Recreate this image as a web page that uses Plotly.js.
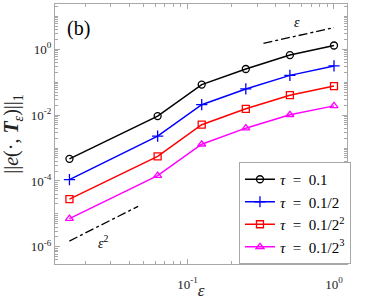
<!DOCTYPE html>
<html>
<head>
<meta charset="utf-8">
<script src="https://cdn.plot.ly/plotly-3.0.1.min.js"></script>
<style>html,body{margin:0;padding:0;background:#fff;}#chart{width:382px;height:300px;}</style>
</head>
<body>
<div id="chart"></div>
<script>
const eps = [1/64, 1/16, 1/8, 1/4, 1/2, 1];
const errTau1 = [4.7e-4, 9.3e-3, 0.084, 0.25, 0.66, 1.29];
const errTau2 = [1.1e-4, 2.3e-3, 0.0206, 0.062, 0.16, 0.31];
const errTau3 = [2.8e-5, 5.6e-4, 5.1e-3, 0.0155, 0.040, 0.076];
const errTau4 = [7.2e-6, 1.45e-4, 1.3e-3, 4.0e-3, 0.0102, 0.019];
const seriesNames = ["<i>τ</i>\u2002=\u20020.1", "<i>τ</i>\u2002=\u20020.1/2", "<i>τ</i>\u2002=\u20020.1/2<sup>2</sup>", "<i>τ</i>\u2002=\u20020.1/2<sup>3</sup>"];
const refEpsX = [0.33, 1.0];
const refEpsY = [1.5, 4.5];
const refEps2X = [0.0156, 0.046];
const refEps2Y = [1.5e-6, 1.7e-5];
const yTickVals = [1e-6, 1e-4, 1e-2, 1];
const yTickText = ["10<sup>-6</sup>", "10<sup>-4</sup>", "10<sup>-2</sup>", "10<sup>0</sup>"];
const xTickVals = [0.1, 1];
const xTickText = ["10<sup>-1</sup>", "10<sup>0</sup>"];

function logMinorTicks(lo, hi) {
  const out = [];
  for (let k = lo; k <= hi; k++) {
    for (let m = 1; m <= 9; m++) out.push(m * Math.pow(10, k));
  }
  return out;
}

const serif = "Liberation Serif, Times New Roman, serif";
const colors = ["#000000", "#0000ff", "#ff0000", "#ff00ff"];
const symbols = ["circle-open", "cross-thin-open", "square-open", "triangle-up-open"];
const ys = [errTau1, errTau2, errTau3, errTau4];

const traces = ys.map((y, i) => ({
  x: eps, y: y, name: seriesNames[i], type: "scatter", mode: "lines+markers",
  line: {color: colors[i], width: 1.5},
  marker: {symbol: symbols[i], size: i === 1 ? 8 : 7, color: colors[i], line: {width: 1.3, color: colors[i]}}
}));
traces.push({x: refEpsX, y: refEpsY, mode: "lines", showlegend: false,
  line: {color: "#000", width: 1.3, dash: "dashdot"}, hoverinfo: "skip"});
traces.push({x: refEps2X, y: refEps2Y, mode: "lines", showlegend: false,
  line: {color: "#000", width: 1.3, dash: "dashdot"}, hoverinfo: "skip"});

const axisCommon = {
  type: "log", showgrid: false, zeroline: false, showline: true, mirror: "ticks",
  linecolor: "#a8a8a8", linewidth: 1, ticks: "inside", ticklen: 5, tickcolor: "#a8a8a8",
  tickfont: {family: serif, size: 13, color: "#222"}, tickmode: "array"
};

const layout = {
  width: 382, height: 300,
  margin: {l: 55, r: 35, t: 4, b: 36},
  paper_bgcolor: "#fff", plot_bgcolor: "#fff",
  showlegend: true,
  xaxis: Object.assign({}, axisCommon, {
    range: [Math.log10(0.01245), Math.log10(1.227)],
    tickvals: xTickVals, ticktext: xTickText, ticklabelstandoff: 8,
    minor: {ticks: "inside", ticklen: 3, tickcolor: "#a8a8a8", tickwidth: 1, tickmode: "array", tickvals: logMinorTicks(-2, 0)},
    title: {text: "<i>ε</i>", font: {family: serif, size: 17, color: "#222"}, standoff: 0}
  }),
  yaxis: Object.assign({}, axisCommon, {
    range: [-6.52, 1.37],
    tickvals: yTickVals, ticktext: yTickText,
    minor: {ticks: "inside", ticklen: 3, tickcolor: "#a8a8a8", tickwidth: 1, tickmode: "array", tickvals: logMinorTicks(-7, 1)},
    title: {text: "||<i>e</i>(·, <b><i>T</i></b><sub><i>ε</i></sub>)||<sub>1</sub>", font: {family: serif, size: 20, color: "#222"}, standoff: 6}
  }),
  legend: {
    x: 0.63, y: 0, xanchor: "left", yanchor: "bottom",
    bgcolor: "#fff", bordercolor: "#a8a8a8", borderwidth: 1,
    font: {family: serif, size: 15, color: "#000"},
    tracegroupgap: 0, itemwidth: 30
  },
  annotations: [
    {xref: "paper", yref: "paper", x: 0.082, y: 0.905, xanchor: "center", yanchor: "middle", text: "(b)", showarrow: false,
     font: {family: serif, size: 20, color: "#000"}},
    {xref: "x", yref: "y", x: Math.log10(0.555), y: Math.log10(6.3), text: "<i>ε</i>", showarrow: false,
     font: {family: serif, size: 14, color: "#000"}},
    {xref: "x", yref: "y", x: Math.log10(0.0266), y: Math.log10(1.4e-6), text: "<i>ε</i><sup>2</sup>", showarrow: false,
     font: {family: serif, size: 14, color: "#000"}}
  ]
};

Plotly.newPlot("chart", traces, layout, {displayModeBar: false, staticPlot: true});
</script>
</body>
</html>
